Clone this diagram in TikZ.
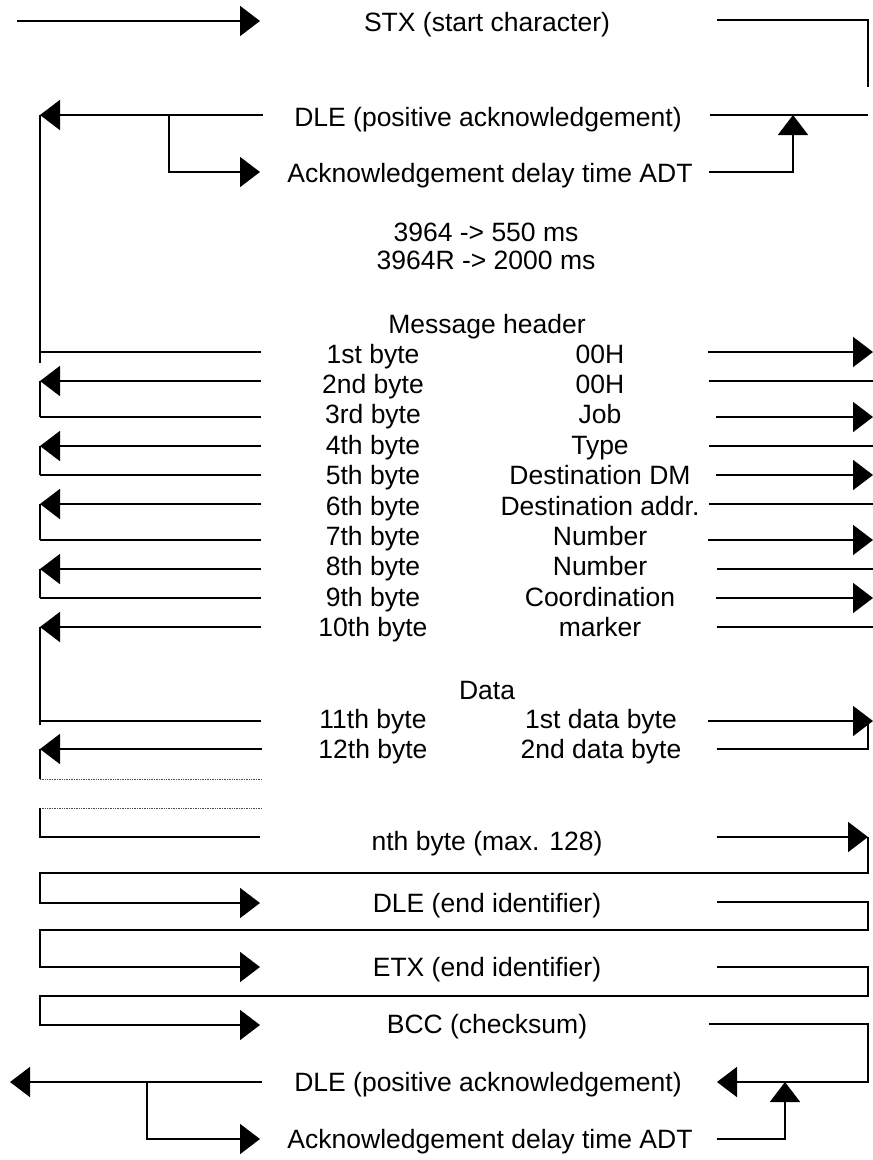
\documentclass[tikz,border=0pt]{standalone}
\usepackage{fontspec}
\setmainfont{Liberation Sans}
\usetikzlibrary{arrows.meta}
\begin{document}
\begin{tikzpicture}[x=1pt,y=-1pt,
  wire/.style={line width=1.7pt},
  flow/.style={wire,-{Triangle[length=20pt,width=30pt]}},
  gap/.style={line width=0.7pt,densely dotted,black!70},
  lbl/.style={font=\fontsize{26.5}{30}\selectfont,inner sep=0pt,text height=19pt,text depth=0pt}]
\useasboundingbox[fill=white] (0,0) rectangle (873,1160);

% ---------- connection set-up ----------
\node[lbl] (stx) at (487,22) {STX (start character)};
\coordinate (stxL) at (17,21);
\coordinate (stxA) at (260,21);
\draw[flow] (stxL) -- (stxA);
\coordinate (stxR1) at (717,20);
\coordinate (stxR2) at (868,20);
\coordinate (stxR3) at (868,87);
\draw[wire] (stxR1) -- (stxR2) -- (stxR3);

\node[lbl] (dle1) at (488,117) {DLE (positive acknowledgement)};
\node[lbl] (adt1) at (490,173) {Acknowledgement delay time ADT};
\coordinate (a1) at (263,115);
\coordinate (a2) at (40,115);
\coordinate (a3) at (169,115);
\coordinate (a4) at (169,172);
\coordinate (a5) at (260,172);
\draw[flow] (a1) -- (a2);
\draw[flow] (a3) -- (a4) -- (a5);
\coordinate (u1) at (709,172);
\coordinate (u2) at (793,172);
\coordinate (u3) at (793,115);
\coordinate (u4) at (710,115);
\coordinate (u5) at (868,115);
\draw[wire] (u4) -- (u5);
\draw[flow] (u1) -- (u2) -- (u3);

\node[lbl] (t3964) at (486,232) {3964 -> 550 ms};
\node[lbl] (t3964r) at (486,260) {3964R -> 2000 ms};

% ---------- message header ----------
\node[lbl] (hdr) at (487,323.5) {Message header};
\coordinate (rail0) at (40,363);
\draw[wire] (a2) -- (rail0);

\foreach \i/\y/\ty/\xs/\lab/\val in {
  1/352/353.5/708/1st byte/00H,
  2/381/384/709/2nd byte/00H,
  3/417/414/716/3rd byte/Job,
  4/446/445/709/4th byte/Type,
  5/475/475/716/5th byte/Destination DM,
  6/504/505.5/709/6th byte/Destination addr.,
  7/540/536/708/7th byte/Number,
  8/569/566/717/8th byte/Number,
  9/598/597/716/9th byte/Coordination,
  10/627/627/717/10th byte/marker}{
  \node[lbl] (byte\i) at (373,\ty) {\lab};
  \node[lbl] (val\i) at (600,\ty) {\val};
  \coordinate (hl\i) at (40,\y);
  \coordinate (hm\i) at (261,\y);
  \coordinate (hr\i) at (\xs,\y);
  \coordinate (he\i) at (873,\y);
}

% master side: odd bytes sent, even bytes answered
\draw[wire] (hl1) -- (hm1);
\foreach \i in {2,4,6,8,10} {\draw[flow] (hm\i) -- (hl\i);}
\foreach \i in {3,5,7,9} {\draw[wire] (hm\i) -- (hl\i);}
\draw[wire] (hl2) -- (hl3);
\draw[wire] (hl4) -- (hl5);
\draw[wire] (hl6) -- (hl7);
\draw[wire] (hl8) -- (hl9);
% slave side
\foreach \i in {1,3,5,7,9} {\draw[flow] (hr\i) -- (he\i);}
\foreach \i in {2,4,6,8,10} {\draw[wire] (hr\i) -- (he\i);}

% ---------- data ----------
\node[lbl] (data) at (487,689.5) {Data};
\node[lbl] (byte11) at (373,718.5) {11th byte};
\node[lbl] (val11) at (601,718.5) {1st data byte};
\node[lbl] (byte12) at (373,748.5) {12th byte};
\node[lbl] (val12) at (601,748.5) {2nd data byte};
\coordinate (hl11) at (40,721);
\coordinate (rail11) at (40,725);
\coordinate (hm11) at (261,721);
\coordinate (hr11) at (708,721);
\coordinate (he11) at (873,721);
\coordinate (hk11) at (868,721);
\coordinate (hl12) at (40,749);
\coordinate (hm12) at (262,749);
\coordinate (hr12) at (717,749);
\coordinate (he12) at (868,749);
\draw[wire] (hl10) -- (rail11);
\draw[wire] (hl11) -- (hm11);
\draw[flow] (hr11) -- (he11);
\draw[flow] (hm12) -- (hl12);
\draw[wire] (hr12) -- (he12) -- (hk11);

% omitted bytes
\coordinate (g1) at (40,779);
\coordinate (g2) at (262,779);
\coordinate (g3) at (40,808);
\coordinate (g4) at (262,808);
\draw[wire] (hl12) -- (g1);
\draw[gap] (g1) -- (g2);
\draw[gap] (g3) -- (g4);
\coordinate (hl13) at (40,837);
\coordinate (hm13) at (260,837);
\draw[wire] (g3) -- (hl13) -- (hm13);

\node[lbl] (byten) at (487,841) {nth byte (max. 128)};
\coordinate (hr13) at (717,837);
\coordinate (he13) at (868,837);
\draw[flow] (hr13) -- (he13);

% ---------- end of message ----------
\coordinate (k1) at (868,873);
\coordinate (k2) at (40,873);
\coordinate (k3) at (40,903);
\coordinate (k4) at (260,903);
\draw[flow] (he13) -- (k1) -- (k2) -- (k3) -- (k4);

\node[lbl] (dleend) at (487,903) {DLE (end identifier)};
\coordinate (m1) at (717,902);
\coordinate (m2) at (868,902);
\coordinate (m3) at (868,930);
\coordinate (m4) at (40,930);
\coordinate (m5) at (40,967);
\coordinate (m6) at (260,967);
\draw[flow] (m1) -- (m2) -- (m3) -- (m4) -- (m5) -- (m6);

\node[lbl] (etx) at (487,967) {ETX (end identifier)};
\coordinate (n1) at (717,967);
\coordinate (n2) at (868,967);
\coordinate (n3) at (868,996);
\coordinate (n4) at (40,996);
\coordinate (n5) at (40,1025);
\coordinate (n6) at (260,1025);
\draw[flow] (n1) -- (n2) -- (n3) -- (n4) -- (n5) -- (n6);

\node[lbl] (bcc) at (487,1024) {BCC (checksum)};
\coordinate (p1) at (709,1024);
\coordinate (p2) at (868,1024);
\coordinate (p3) at (868,1082);
\coordinate (p4) at (717,1082);
\draw[flow] (p1) -- (p2) -- (p3) -- (p4);

% ---------- final acknowledgement ----------
\node[lbl] (dle2) at (488,1082) {DLE (positive acknowledgement)};
\node[lbl] (adt2) at (490,1139) {Acknowledgement delay time ADT};
\coordinate (q1) at (717,1139);
\coordinate (q2) at (785,1139);
\coordinate (q3) at (785,1082);
\draw[flow] (q1) -- (q2) -- (q3);
\coordinate (s1) at (262,1082);
\coordinate (s2) at (10,1082);
\coordinate (s3) at (147,1082);
\coordinate (s4) at (147,1139);
\coordinate (s5) at (260,1139);
\draw[flow] (s1) -- (s2);
\draw[flow] (s3) -- (s4) -- (s5);
\end{tikzpicture}
\end{document}
